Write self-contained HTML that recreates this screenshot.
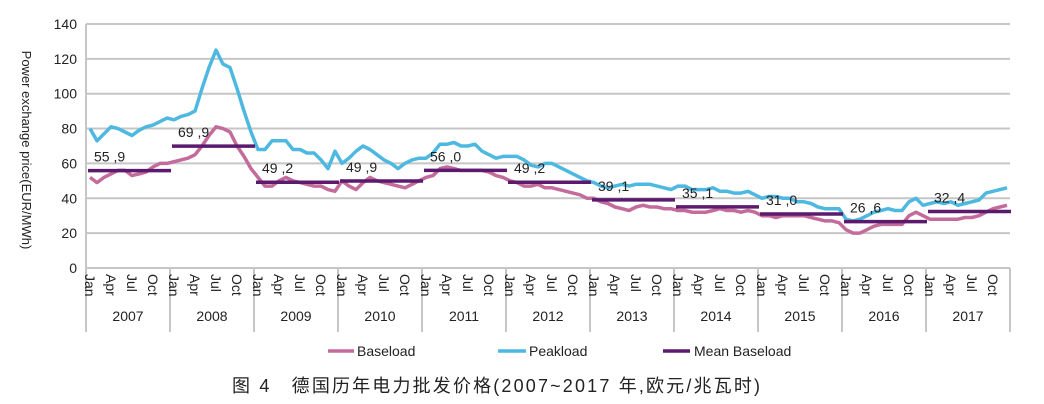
<!DOCTYPE html>
<html><head><meta charset="utf-8"><style>
body{margin:0;background:#fff;width:1044px;height:404px;overflow:hidden}
svg{display:block}
text{font-family:"Liberation Sans",sans-serif;fill:#222}
</style></head><body>
<svg id="s" width="1044" height="404" xmlns="http://www.w3.org/2000/svg"></svg>
<script>
const s=document.getElementById('s');let h='';
const Y=v=>268-v*1.743, X=i=>90+7*i;
for(let v=0;v<=140;v+=20){h+=`<line x1="86" x2="1010" y1="${Y(v)}" y2="${Y(v)}" stroke="#c6c6c6" stroke-width="2"/>`;
h+=`<text x="77" y="${Y(v)+5}" font-size="14" text-anchor="end">${v}</text>`;}
h+=`<line x1="86" x2="86" y1="${Y(140)}" y2="268" stroke="#c6c6c6" stroke-width="2"/>`;
for(let k=0;k<=11;k++){const x=86+84*k;h+=`<line x1="${x}" x2="${x}" y1="268" y2="332" stroke="#c6c6c6" stroke-width="2"/>`;}
const m=['Jan','Apr','Jul','Oct'];
for(let y=0;y<11;y++){for(let q=0;q<4;q++){const x=X(y*12+q*3)-5;h+=`<text transform="translate(${x},274) rotate(90)" font-size="14">${m[q]}</text>`;}
h+=`<text x="${128+84*y}" y="321" font-size="14" text-anchor="middle">${2007+y}</text>`;}
h+=`<text transform="translate(22,150) rotate(90)" font-size="13" text-anchor="middle">Power exchange price(EUR/MWh)</text>`;
const P=[80,73,77,81,80,78,76,79,81,82,84,86, 85,87,88,90,103,115,125,117,115,103,90,78, 68,68,73,73,73,68,68,66,66,62,57,67, 60,63,67,70,68,65,62,60,57,60,62,63, 63,66,71,71,72,70,70,71,67,65,63,64, 64,64,62,59,58,60,60,58,56,54,52,50, 49,47,46,47,48,47,48,48,48,47,46,45, 47,47,45,45,45,46,44,44,43,43,44,42, 40,41,41,40,40,38,38,37,35,34,34,34, 28,27,28,30,32,33,34,33,33,38,40,36, 37,38,37,38,36,37,38,39,43,44,45,46];
const B=[52,49,52,54,56,56,53,54,55,58,60,60, 61,62,63,65,70,76,81,80,78,70,64,57, 52,47,47,50,52,50,49,48,47,47,45,44, 50,47,45,49,52,50,49,48,47,46,48,50, 52,53,57,58,57,56,56,56,56,55,53,52, 50,49,47,47,48,46,46,45,44,43,42,40, 40,38,37,35,34,33,35,36,35,35,34,34, 33,33,32,32,32,33,34,33,33,32,33,32, 30,30,29,30,30,30,30,29,28,27,27,26, 22,20,20,22,24,25,25,25,25,30,32,30, 28,28,28,28,28,29,29,30,32,34,35,36];
const pl=(a,c)=>`<polyline fill="none" stroke="${c}" stroke-width="3.5" stroke-linejoin="round" points="${a.map((v,i)=>X(i)+','+Y(v).toFixed(1)).join(' ')}"/>`;
h+=pl(B,'#c36b9b');h+=pl(P,'#4db8e0');
const M=[55.9,69.9,49.2,49.9,56.0,49.2,39.1,35.1,31.0,26.6,32.4];
M.forEach((v,y)=>{const x1=X(y*12)-2,x2=X(y*12+11)+4;h+=`<line x1="${x1}" x2="${x2}" y1="${Y(v)}" y2="${Y(v)}" stroke="#5b1a6e" stroke-width="3.5"/>`;
h+=`<text x="${x1+6}" y="${Y(v)-9}" font-size="14">${v.toFixed(1).replace('.',' ,')}</text>`;});
h+=`<line x1="328" x2="354" y1="351" y2="351" stroke="#c36b9b" stroke-width="3.5"/><text x="357" y="356" font-size="14">Baseload</text>`;
h+=`<line x1="498" x2="526" y1="351" y2="351" stroke="#4db8e0" stroke-width="3.5"/><text x="529" y="356" font-size="14">Peakload</text>`;
h+=`<line x1="663" x2="690" y1="351" y2="351" stroke="#5b1a6e" stroke-width="3.5"/><text x="694" y="356" font-size="14">Mean Baseload</text>`;
h+=`<text x="232" y="392" font-size="18" textLength="528" style='font-family:"Liberation Sans","Noto Sans CJK SC",sans-serif'>图 4　德国历年电力批发价格(2007~2017 年,欧元/兆瓦时)</text>`;
s.innerHTML=h;
</script>
</body></html>
